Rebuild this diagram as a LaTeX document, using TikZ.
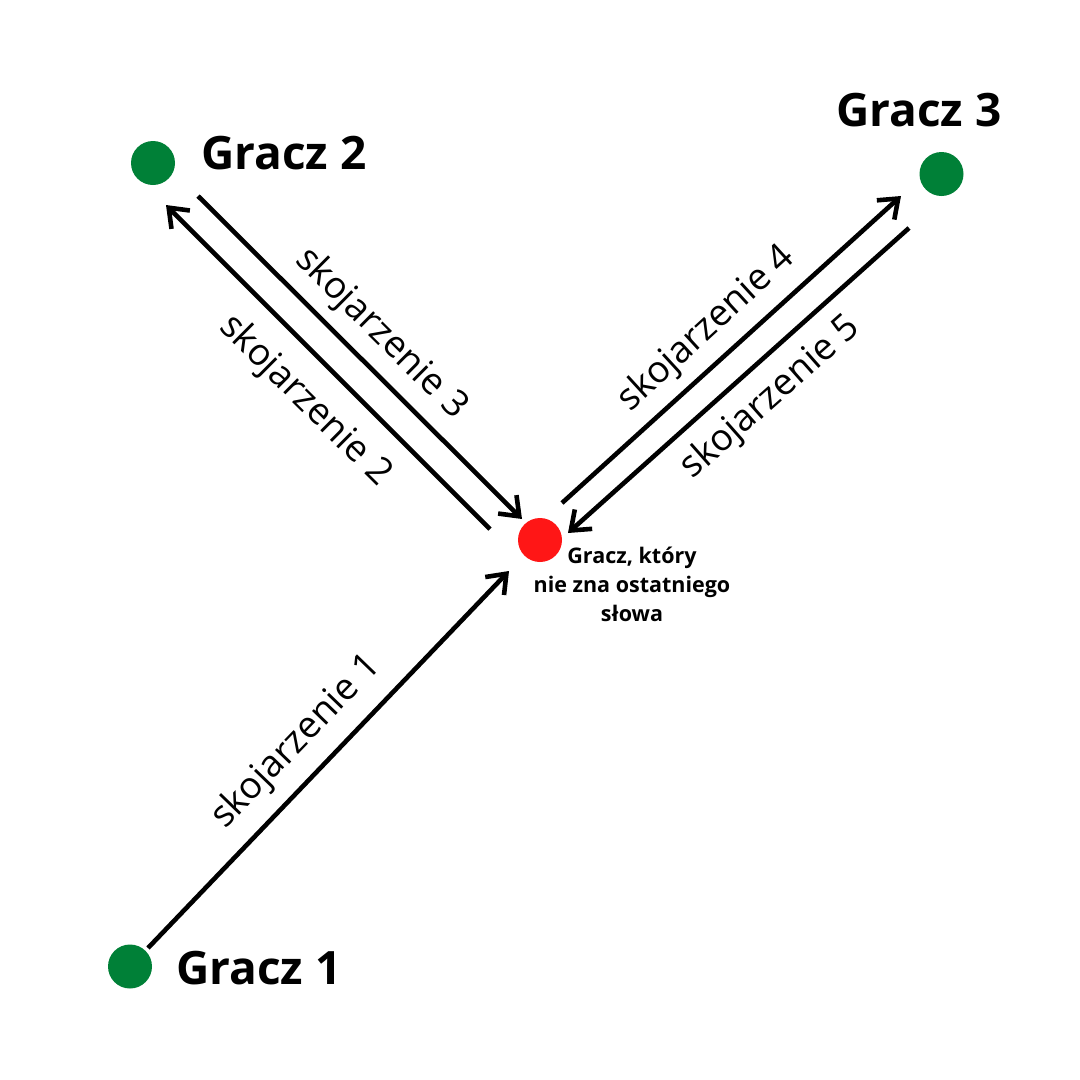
\documentclass[tikz,border=0pt]{standalone}
\usepackage{fontspec}
\setmainfont{Open Sans}
\usetikzlibrary{arrows.meta}
\definecolor{dotgreen}{HTML}{008037}
\definecolor{dotred}{HTML}{FF1616}
\begin{document}
\begin{tikzpicture}[x=1pt,y=-1pt,
  dot/.style={circle,minimum size=44pt,inner sep=0pt},
  player/.style={font=\fontsize{46}{55}\selectfont\bfseries,inner sep=0pt},
  assoc/.style={font=\fontsize{37}{44}\selectfont,inner sep=0pt},
  conn/.style={line width=4.6pt,-{Straight Barb[length=17pt,width=26pt,line width=4.6pt]}}]
\fill[white] (0,0) rectangle (1080,1080);
\useasboundingbox (0,0) rectangle (1080,1080);
% dots
\node[dot,fill=dotgreen] (g1) at (130,966.5) {};
\node[dot,fill=dotgreen] (g2) at (153,163) {};
\node[dot,fill=dotgreen] (g3) at (941.5,174) {};
\node[dot,fill=dotred] (r) at (540,540) {};
% player labels
\node[player,anchor=west] (t1) at (176,968) {Gracz 1};
\node[player,anchor=west] (t2) at (201,153) {Gracz 2};
\node[player,anchor=west] (t3) at (836,110) {Gracz 3};
\node[align=center,font=\fontsize{21.5}{29}\selectfont\bfseries,inner sep=0pt] (tr) at (632,584) {Gracz, który\\nie zna ostatniego\\słowa};
% connector end points
\coordinate (a1) at (148,948);  \coordinate (b1) at (509,571);
\coordinate (a2) at (490,529);  \coordinate (b2) at (166,205);
\coordinate (a3) at (198,196);  \coordinate (b3) at (522,519);
\coordinate (a4) at (562,503);  \coordinate (b4) at (901,196);
\coordinate (a5) at (909,228);  \coordinate (b5) at (568,533);
\draw[conn] (a1) -- (b1);
\draw[conn] (a2) -- (b2);
\draw[conn] (a3) -- (b3);
\draw[conn] (a4) -- (b4);
\draw[conn] (a5) -- (b5);
% association labels
\node[assoc,rotate=46] (l1) at (297,742) {skojarzenie 1};
\node[assoc,rotate=-44.8] (l2) at (305,401) {skojarzenie 2};
\node[assoc,rotate=-44.8] (l3) at (381,334) {skojarzenie 3};
\node[assoc,rotate=42.5] (l4) at (707,329) {skojarzenie 4};
\node[assoc,rotate=41.5] (l5) at (771,398) {skojarzenie 5};
\end{tikzpicture}
\end{document}
